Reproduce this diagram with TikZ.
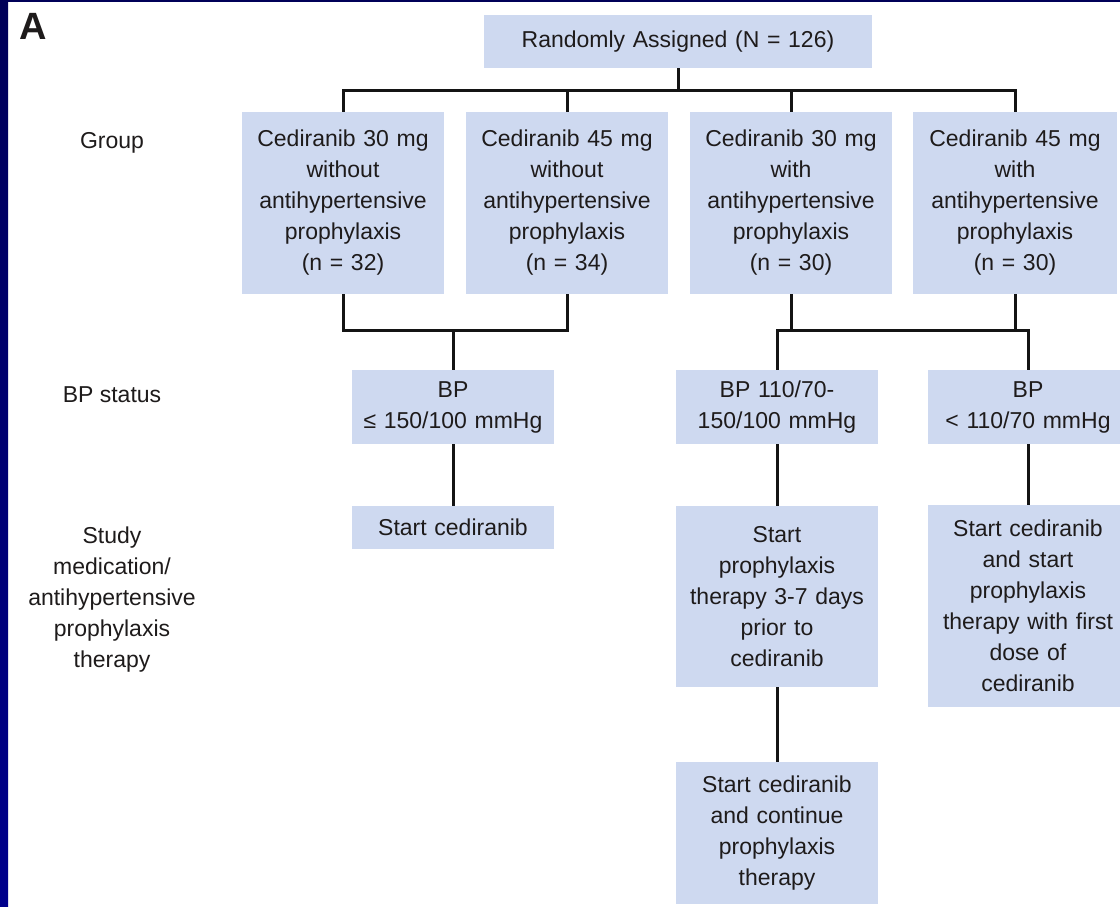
\documentclass[tikz,border=0pt]{standalone}
\usepackage{fontspec}
\setmainfont{Liberation Sans}
\definecolor{boxfill}{RGB}{206,217,240}
\definecolor{txt}{RGB}{30,27,27}
\definecolor{navytop}{RGB}{0,0,88}
\definecolor{navybot}{RGB}{0,0,140}
\begin{document}
\begin{tikzpicture}[x=1pt,y=-1pt,
  box/.style={fill=boxfill, inner sep=0pt, align=center, text=txt,
    font=\fontsize{23}{31}\selectfont},
  lbl/.style={inner sep=0pt, align=center, text=txt,
    font=\fontsize{23}{31}\selectfont},
  conn/.style={line width=3pt, black!92}]
\clip (0,0) rectangle (1120,907);
\fill[white] (0,0) rectangle (1120,907);
\shade[top color=navytop, bottom color=navybot] (0,0) rectangle (8,907);
\fill[navytop] (0,0) rectangle (1120,2.5);

\node[anchor=base, inner sep=0pt, text=txt, font=\bfseries\fontsize{38}{38}\selectfont] (A) at (33,40) {A};

% row labels
\node[lbl] (lgroup) at (112,143) {Group};
\node[lbl] (lbp) at (112,395) {BP status};
\node[lbl] (lstudy) at (112,600) {Study\\medication/\\antihypertensive\\prophylaxis\\therapy};

% top
\node[box, text width=388pt, minimum height=53pt] (top) at (678,41.5) {Randomly Assigned (N = 126)};

% groups
\node[box, text width=202pt, minimum height=182pt] (g1) at (343,203)
  {Cediranib 30 mg\\without\\antihypertensive\\prophylaxis\\(n = 32)};
\node[box, text width=202pt, minimum height=182pt] (g2) at (567,203)
  {Cediranib 45 mg\\without\\antihypertensive\\prophylaxis\\(n = 34)};
\node[box, text width=202pt, minimum height=182pt] (g3) at (791,203)
  {Cediranib 30 mg\\with\\antihypertensive\\prophylaxis\\(n = 30)};
\node[box, text width=204pt, minimum height=182pt] (g4) at (1015,203)
  {Cediranib 45 mg\\with\\antihypertensive\\prophylaxis\\(n = 30)};

% BP status
\node[box, text width=202pt, minimum height=74pt] (bp1) at (453,407) {BP\\≤ 150/100 mmHg};
\node[box, text width=202pt, minimum height=74pt] (bp2) at (777,407) {BP 110/70-\\150/100 mmHg};
\node[box, text width=200pt, minimum height=74pt] (bp3) at (1028,407) {BP\\< 110/70 mmHg};

% study medication
\node[box, text width=202pt, minimum height=43pt] (st1) at (453,527.5) {Start cediranib};
\node[box, text width=202pt, minimum height=181pt] (st2) at (777,596.5)
  {Start\\prophylaxis\\therapy 3-7 days\\prior to\\cediranib};
\node[box, text width=200pt, minimum height=202pt] (st3) at (1028,606)
  {Start cediranib\\and start\\prophylaxis\\therapy with first\\dose of\\cediranib};
\node[box, text width=202pt, minimum height=142pt] (st4) at (777,833)
  {Start cediranib\\and continue\\prophylaxis\\therapy};

% junction coordinates
\coordinate (j0) at (678,91);
\coordinate (j1) at (454,330);
\coordinate (j2) at (900,330);

% connectors
\draw[conn] (top.south) -- (j0);
\draw[conn] (g1.north) -- (g1.north |- j0) -- (g4.north |- j0) -- (g4.north);
\draw[conn] (g2.north |- j0) -- (g2.north);
\draw[conn] (g3.north |- j0) -- (g3.north);

\draw[conn] (g1.south) -- (g1.south |- j1) -- (g2.south |- j1) -- (g2.south);
\draw[conn] (bp1.north |- j1) -- (bp1.north);

\draw[conn] (bp2.north) -- (bp2.north |- j2) -- (bp3.north |- j2) -- (bp3.north);
\draw[conn] (g3.south) -- (g3.south |- j2);
\draw[conn] (g4.south) -- (g4.south |- j2);

\draw[conn] (bp1.south) -- (st1.north);
\draw[conn] (bp2.south) -- (st2.north);
\draw[conn] (st2.south) -- (st4.north);
\draw[conn] (bp3.south) -- (st3.north);
\end{tikzpicture}
\end{document}
